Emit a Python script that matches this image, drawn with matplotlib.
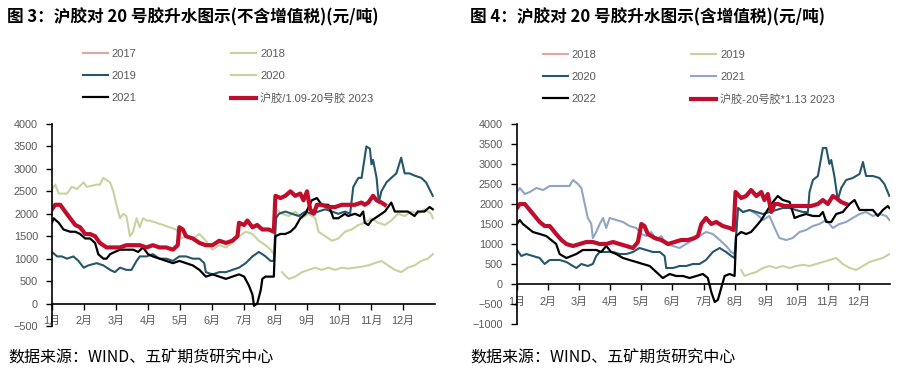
import matplotlib
matplotlib.use('Agg')
import matplotlib.pyplot as plt

plt.rcParams['font.family'] = ['Liberation Sans', 'Noto Sans CJK SC', 'DejaVu Sans']

# ---------------- dados: grafico 3 (sem imposto) ----------------
meses = ['1月', '2月', '3月', '4月', '5月', '6月', '7月', '8月', '9月', '10月', '11月', '12月']

l18_x = [0, 0.10, 0.21, 0.47, 0.62, 0.78, 0.99, 1.09, 1.40, 1.50, 1.61, 1.71, 1.82, 1.92, 2.02, 2.13, 2.23, 2.33,
         2.44, 2.54, 2.65, 2.75, 2.85, 2.96, 3.06, 3.27, 3.48, 3.68, 3.89, 4.05, 4.20, 4.41, 4.62, 4.82, 5.03, 5.24,
         5.45, 5.65, 5.86, 6.07, 6.28, 6.48, 6.69, 6.85, 6.95, 7.02, 7.21, 7.42, 7.62, 7.83, 8.04, 8.25, 8.35, 8.56,
         8.77, 8.97, 9.18, 9.39, 9.60, 9.80, 10.01, 10.22, 10.43, 10.63, 10.84, 11.05, 11.26, 11.46, 11.67, 11.88, 11.93]
l18_y = [2550, 2650, 2450, 2450, 2600, 2550, 2700, 2600, 2650, 2650, 2800, 2750, 2700, 2500, 2200, 1900, 2000, 1950,
         1500, 1600, 1900, 1700, 1900, 1850, 1850, 1800, 1750, 1700, 1650, 1450, 1500, 1450, 1550, 1400, 1200, 1300,
         1250, 1350, 1500, 1600, 1550, 1400, 1300, 1200, 1100, 2100, 2000, 1950, 2050, 1900, 2000, 1900, 1600, 1500,
         1400, 1450, 1600, 1650, 1750, 1800, 1900, 1800, 1750, 1850, 2000, 1950, 2050, 2000, 2100, 2000, 1900]

l20_x = [7.21, 7.31, 7.42, 7.62, 7.83, 8.04, 8.25, 8.45, 8.66, 8.87, 9.08, 9.28, 9.49, 9.70, 9.91, 10.11, 10.32,
         10.53, 10.74, 10.94, 11.15, 11.36, 11.57, 11.77, 11.93]
l20_y = [700, 620, 550, 600, 700, 750, 800, 750, 800, 750, 800, 780, 800, 820, 850, 900, 950, 850, 750, 700, 800,
         850, 950, 1000, 1100]

l19_x = [0, 0.16, 0.31, 0.47, 0.67, 0.83, 0.99, 1.14, 1.40, 1.61, 1.82, 1.97, 2.13, 2.33, 2.49, 2.65, 2.75, 2.96,
         3.16, 3.37, 3.58, 3.79, 3.99, 4.20, 4.41, 4.62, 4.77, 4.82, 5.03, 5.24, 5.45, 5.65, 5.86, 6.07, 6.28, 6.48,
         6.59, 6.69, 6.85, 6.95, 7.02, 7.11, 7.31, 7.52, 7.73, 7.94, 8.14, 8.35, 8.56, 8.77, 8.97, 9.18, 9.34, 9.44,
         9.60, 9.70, 9.85, 9.96, 10.01, 10.06, 10.17, 10.24, 10.32, 10.48, 10.63, 10.79, 10.94, 11.05, 11.20, 11.36,
         11.57, 11.72, 11.93]
l19_y = [1150, 1050, 1050, 1000, 1050, 950, 800, 850, 900, 850, 750, 700, 800, 750, 750, 950, 1050, 1050,
         1100, 1000, 1000, 950, 1050, 1050, 1000, 1000, 900, 700, 650, 700, 700, 750, 800, 900, 1050, 1150,
         1100, 1050, 950, 950, 1900, 2000, 2050, 2000, 1950, 2050, 2000, 2050, 2100, 2050, 2000, 2050, 2000, 2600,
         2800, 2800, 3500, 3450, 3100, 3200, 2800, 2250, 2500, 2700, 2800, 2900, 3250, 2900, 2900, 2850,
         2800, 2700, 2400]

l21_x = [0, 0.05, 0.21, 0.36, 0.57, 0.73, 0.88, 1.04, 1.19, 1.35, 1.45, 1.61, 1.71, 1.82, 1.97, 2.13, 2.33, 2.54,
         2.70, 2.85, 3.01, 3.16, 3.37, 3.58, 3.79, 3.99, 4.20, 4.41, 4.62, 4.82, 5.03, 5.24, 5.45, 5.65, 5.86, 6.02,
         6.17, 6.28, 6.33, 6.43, 6.54, 6.59, 6.69, 6.85, 6.95, 7.00, 7.16, 7.31, 7.47, 7.62, 7.78, 7.94, 8.14, 8.30,
         8.45, 8.66, 8.82, 8.97, 9.18, 9.28, 9.49, 9.65, 9.75, 9.80, 9.91, 10.01, 10.22, 10.43, 10.58, 10.63, 10.74,
         10.94, 11.15, 11.36, 11.46, 11.67, 11.83, 11.93]
l21_y = [1800, 1900, 1800, 1650, 1600, 1600, 1550, 1450, 1450, 1350, 1100, 1000, 1000, 1100, 1150, 1200, 1200, 1200,
         1150, 1250, 1100, 1050, 1000, 950, 900, 950, 900, 850, 750, 600, 650, 600, 550, 600, 650, 600,
         400, 200, -50, 0, 300, 550, 600, 600, 600, 1500, 1550, 1550, 1600, 1700, 1900, 2000, 2300, 2350,
         2200, 2200, 1900, 1900, 2000, 1950, 2000, 1950, 2050, 1800, 1750, 1850, 1950, 2050, 2200, 2250, 2050,
         2050, 2050, 1950, 2050, 2050, 2150, 2100]

l23_x = [0, 0.10, 0.26, 0.41, 0.57, 0.73, 0.88, 1.04, 1.19, 1.35, 1.50, 1.71, 1.92, 2.13, 2.33, 2.54, 2.75, 2.96,
         3.16, 3.37, 3.58, 3.79, 3.94, 3.99, 4.10, 4.20, 4.41, 4.62, 4.82, 5.03, 5.24, 5.45, 5.65, 5.81, 5.86, 6.02,
         6.12, 6.28, 6.43, 6.59, 6.79, 6.95, 7.00, 7.16, 7.31, 7.47, 7.62, 7.78, 7.88, 7.99, 8.09, 8.20, 8.30, 8.45,
         8.66, 8.87, 9.08, 9.28, 9.49, 9.70, 9.80, 9.91, 10.06, 10.17, 10.32, 10.43]
l23_y = [2100, 2200, 2200, 2050, 1900, 1750, 1700, 1550, 1550, 1500, 1350, 1250, 1250, 1250, 1300, 1300, 1300, 1250,
         1300, 1250, 1250, 1200, 1300, 1700, 1650, 1500, 1450, 1350, 1300, 1300, 1400, 1350, 1400, 1500, 1800, 1750,
         1850, 1700, 1750, 1650, 1650, 1600, 2400, 2350, 2400, 2500, 2400, 2450, 2300, 2500, 2100, 2000, 2200, 2200,
         2150, 2150, 2200, 2200, 2200, 2250, 2200, 2250, 2400, 2300, 2250, 2200]

# ---------------- dados: grafico 4 (com imposto) ----------------
r21_x = [0, 0.09, 0.25, 0.41, 0.62, 0.84, 1.05, 1.26, 1.48, 1.69, 1.80, 1.96, 2.07, 2.18, 2.28, 2.39, 2.44, 2.55,
         2.66, 2.77, 2.87, 2.98, 3.19, 3.41, 3.62, 3.84, 4.00, 4.16, 4.32, 4.48, 4.64, 4.80, 5.02, 5.23, 5.44, 5.66,
         5.87, 6.08, 6.30, 6.52, 6.73, 6.89, 7.00, 7.11, 7.27, 7.48, 7.70, 7.91, 8.12, 8.29, 8.44, 8.66, 8.87, 9.09,
         9.30, 9.52, 9.73, 9.95, 10.16, 10.37, 10.59, 10.80, 11.02, 11.23, 11.45, 11.66, 11.88, 11.98]
r21_y = [2300, 2400, 2250, 2300, 2400, 2350, 2450, 2450, 2450, 2450, 2600, 2500, 2400, 2000, 1650, 1500, 1150, 1300,
         1500, 1650, 1400, 1650, 1600, 1550, 1450, 1400, 1250, 1200, 1300, 1100, 1200, 1000, 950, 900, 1000, 1100,
         1200, 1300, 1250, 1100, 950, 800, 750, 1900, 1800, 1850, 1750, 1600, 1700, 1400, 1150, 1100, 1150, 1300,
         1350, 1450, 1500, 1600, 1400, 1500, 1550, 1650, 1750, 1800, 1700, 1750, 1700, 1600]

r19_x = [7.21, 7.32, 7.48, 7.70, 7.91, 8.12, 8.34, 8.55, 8.77, 8.98, 9.20, 9.41, 9.62, 9.84, 10.05, 10.27, 10.48,
         10.70, 10.91, 11.13, 11.34, 11.55, 11.77, 11.98]
r19_y = [350, 200, 250, 300, 400, 450, 400, 450, 400, 450, 480, 450, 500, 550, 600, 650, 500, 400, 350, 450, 550,
         600, 650, 750]

r20_x = [0, 0.14, 0.30, 0.51, 0.73, 0.89, 1.05, 1.37, 1.59, 1.80, 1.91, 2.07, 2.28, 2.44, 2.55, 2.66, 2.87, 3.09,
         3.30, 3.52, 3.73, 3.94, 4.16, 4.37, 4.59, 4.75, 4.80, 5.02, 5.23, 5.44, 5.66, 5.87, 6.08, 6.30, 6.52, 6.62,
         6.73, 6.89, 7.00, 7.11, 7.27, 7.48, 7.70, 7.91, 8.12, 8.34, 8.55, 8.77, 8.98, 9.20, 9.36, 9.41, 9.52, 9.68,
         9.84, 9.95, 10.05, 10.11, 10.21, 10.32, 10.43, 10.59, 10.80, 11.02, 11.13, 11.23, 11.45, 11.66, 11.82, 11.98]
r20_y = [850, 700, 750, 700, 650, 500, 600, 600, 550, 450, 400, 500, 450, 500, 700, 800, 800, 800,
         750, 750, 800, 900, 850, 800, 800, 700, 400, 400, 450, 450, 500, 500, 600, 800, 900, 850,
         800, 700, 650, 1900, 1800, 1850, 1800, 1750, 1800, 1850, 1900, 1900, 1850, 1800, 1800, 2300, 2600, 2700,
         3400, 3400, 3000, 3100, 2700, 2100, 2400, 2600, 2650, 2750, 3050, 2700, 2700, 2650, 2500, 2200]

r22_x = [0, 0.09, 0.19, 0.35, 0.51, 0.73, 0.94, 1.10, 1.26, 1.37, 1.59, 1.75, 1.91, 2.12, 2.34, 2.55, 2.71, 2.87,
         3.03, 3.19, 3.41, 3.62, 3.84, 4.05, 4.27, 4.48, 4.69, 4.91, 5.12, 5.34, 5.55, 5.77, 5.98, 6.14, 6.25, 6.36,
         6.46, 6.57, 6.68, 6.84, 7.00, 7.05, 7.21, 7.37, 7.53, 7.70, 7.86, 8.02, 8.18, 8.39, 8.55, 8.77, 8.93, 9.09,
         9.30, 9.52, 9.73, 9.84, 9.95, 10.11, 10.27, 10.48, 10.70, 10.86, 11.02, 11.23, 11.45, 11.61, 11.77, 11.93, 11.98]
r22_y = [1500, 1600, 1500, 1400, 1300, 1250, 1200, 1100, 1000, 750, 650, 700, 750, 850, 850, 850, 800, 950,
         800, 750, 650, 600, 550, 500, 450, 300, 150, 250, 200, 200, 150, 200, 250, 150, -200, -450,
         -400, -100, 200, 250, 200, 1200, 1300, 1250, 1300, 1450, 1600, 1800, 2000, 2200, 2100, 2050, 1650, 1700,
         1750, 1700, 1700, 1800, 1550, 1550, 1750, 1800, 2000, 2100, 1850, 1850, 1850, 1700, 1850, 1950, 1900]

r23_x = [0, 0.09, 0.25, 0.41, 0.57, 0.73, 0.89, 1.05, 1.26, 1.43, 1.59, 1.80, 2.02, 2.23, 2.44, 2.66, 2.87, 3.09,
         3.30, 3.52, 3.73, 3.89, 4.00, 4.10, 4.21, 4.43, 4.64, 4.86, 5.07, 5.28, 5.50, 5.71, 5.82, 5.93, 6.08, 6.25,
         6.41, 6.62, 6.84, 6.97, 7.03, 7.21, 7.37, 7.53, 7.70, 7.86, 7.96, 8.07, 8.18, 8.29, 8.39, 8.60, 8.82, 9.04,
         9.25, 9.46, 9.68, 9.84, 10.00, 10.16, 10.27, 10.43, 10.59]
r23_y = [1900, 2000, 2000, 1850, 1700, 1550, 1450, 1450, 1250, 1100, 1000, 950, 1000, 1050, 1050, 1000, 1000, 1050,
         1000, 950, 900, 1050, 1500, 1450, 1250, 1150, 1100, 1000, 1050, 1100, 1100, 1150, 1200, 1500, 1650, 1500,
         1550, 1450, 1400, 1350, 2300, 2150, 2200, 2350, 2200, 2300, 2100, 2250, 1800, 2000, 2000, 1950, 1950, 1950,
         1950, 1950, 2000, 2100, 2000, 2200, 2150, 2050, 2000]

# cores
ROSA = '#e6a3a3'
VERDE = '#c9d29f'
AZUL_ESC = '#26566a'
AZUL_CLARO = '#90a4c6'
VERMELHO = '#c00d2b'
CINZA = '#595959'

fig = plt.figure(figsize=(9.07, 3.79), dpi=100)


def formata_eixo(ax, ymin, ymax):
    ax.set_xlim(0, 12)
    ax.set_ylim(ymin, ymax)
    ax.set_yticks(range(ymin, ymax + 1, 500))
    ax.set_xticks(range(12))
    ax.set_xticklabels(meses)
    ax.spines['top'].set_visible(False)
    ax.spines['right'].set_visible(False)
    ax.spines['bottom'].set_position(('data', 0))
    ax.spines['left'].set_linewidth(1.2)
    ax.spines['bottom'].set_linewidth(1.2)
    ax.tick_params(axis='y', labelsize=7.8, labelcolor=CINZA, length=4, width=1, pad=6)
    ax.tick_params(axis='x', labelsize=7.8, labelcolor=CINZA, length=4, width=1, pad=5)


def legenda(ax, handles, x, y):
    fig.legend(handles=handles, ncol=2, loc='upper left', bbox_to_anchor=(x / 907, 1 - y / 379),
               frameon=False, borderpad=0, borderaxespad=0, fontsize=8, labelcolor=CINZA,
               handlelength=2.25, handletextpad=0.35, columnspacing=8.5, labelspacing=1.08)


# ---------------- grafico 3 ----------------
ax1 = fig.add_axes([52 / 907, 1 - 326 / 379, 383 / 907, 202 / 379])
a17, = ax1.plot([], [], color=ROSA, lw=1.5, label='2017')
a18, = ax1.plot(l18_x, l18_y, color=VERDE, lw=1.5, label='2018')
a20, = ax1.plot(l20_x, l20_y, color=VERDE, lw=1.5, label='2020')
a19, = ax1.plot(l19_x, l19_y, color=AZUL_ESC, lw=1.5, label='2019')
a21, = ax1.plot(l21_x, l21_y, color='black', lw=1.6, label='2021')
a23, = ax1.plot(l23_x, l23_y, color=VERMELHO, lw=3, label='沪胶/1.09-20号胶 2023')
formata_eixo(ax1, -500, 4000)
legenda(ax1, [a17, a19, a21, a18, a20, a23], 83, 49)

# ---------------- grafico 4 ----------------
ax2 = fig.add_axes([517 / 907, 1 - 324 / 379, 373 / 907, 200 / 379])
b18, = ax2.plot([], [], color=ROSA, lw=1.5, label='2018')
b19, = ax2.plot(r19_x, r19_y, color=VERDE, lw=1.5, label='2019')
b21, = ax2.plot(r21_x, r21_y, color=AZUL_CLARO, lw=1.5, label='2021')
b20, = ax2.plot(r20_x, r20_y, color=AZUL_ESC, lw=1.5, label='2020')
b22, = ax2.plot(r22_x, r22_y, color='black', lw=1.6, label='2022')
b23, = ax2.plot(r23_x, r23_y, color=VERMELHO, lw=3, label='沪胶-20号胶*1.13 2023')
formata_eixo(ax2, -1000, 4000)
legenda(ax2, [b18, b20, b22, b19, b21, b23], 543, 50)

# titulos e fonte
fig.text(7 / 907, 1 - 17 / 379, '图 3：沪胶对 20 号胶升水图示(不含增值税)(元/吨)', fontsize=12,
         fontweight='bold', family=['Noto Sans CJK SC'], va='center', ha='left')
fig.text(470 / 907, 1 - 17 / 379, '图 4：沪胶对 20 号胶升水图示(含增值税)(元/吨)', fontsize=12,
         fontweight='bold', family=['Noto Sans CJK SC'], va='center', ha='left')
fig.text(8 / 907, 1 - 358 / 379, '数据来源：WIND、五矿期货研究中心', fontsize=11.5,
         family=['Noto Sans CJK SC'], va='center', ha='left')
fig.text(470 / 907, 1 - 358 / 379, '数据来源：WIND、五矿期货研究中心', fontsize=11.5,
         family=['Noto Sans CJK SC'], va='center', ha='left')

fig.savefig('out.png', dpi=100)
